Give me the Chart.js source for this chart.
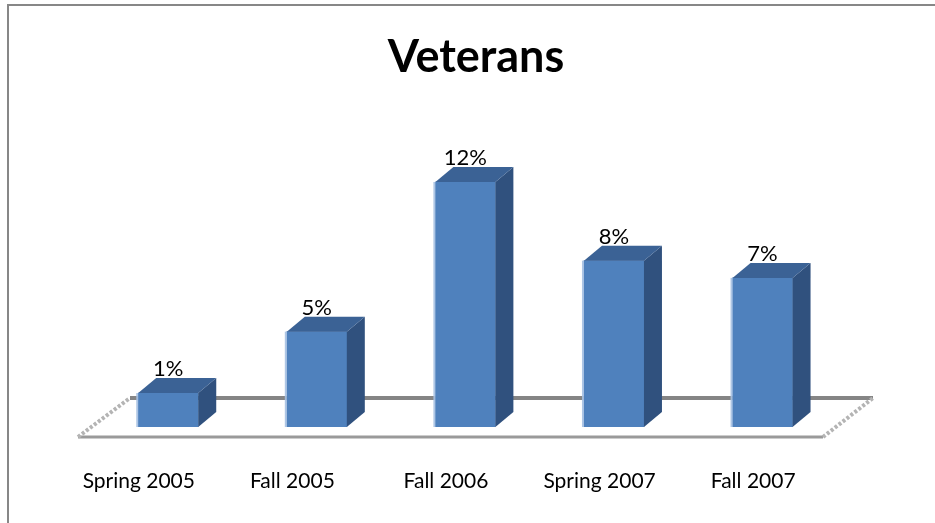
<!DOCTYPE html>
<html><head><meta charset="utf-8">
<script src="https://cdn.jsdelivr.net/npm/chart.js@4.4.1/dist/chart.umd.min.js"></script>
<style>html,body{margin:0;padding:0;background:#fff;} #wrap{width:935px;height:523px;position:relative;}</style>
</head><body><div id="wrap"><canvas id="c" width="935" height="523"></canvas></div>
<script>
const chartTitle = 'Veterans';
const categories = ['Spring 2005', 'Fall 2005', 'Fall 2006', 'Spring 2007', 'Fall 2007'];
const positions = [0, 1, 2, 3, 4];
const values = [1.0, 4.2, 12.0, 7.9, 7.0];
const valueLabels = ['1%', '5%', '12%', '8%', '7%'];

const Y_MIN = -0.77, Y_MAX = 15.23;
const DX = 18, DY = -15;

const threeD = {
  id: 'threeD',
  beforeDraw(chart) {
    const ctx = chart.ctx;
    ctx.save();
    ctx.fillStyle = '#fff';
    ctx.fillRect(0, 0, chart.width, chart.height);
    ctx.strokeStyle = '#878787';
    ctx.lineWidth = 2;
    ctx.strokeRect(8, 5, 960, 560);
    ctx.restore();
  },
  beforeDatasetsDraw(chart) {
    const ctx = chart.ctx, a = chart.chartArea, ys = chart.scales.y;
    const base = ys.getPixelForValue(ys.min);
    const fy = base + 10, by = base - 29;
    const fl = a.left + 16, bl = a.left + 68, fr = a.right - 7, br = a.right + 43;
    ctx.save();
    ctx.lineCap = 'butt';
    ctx.strokeStyle = '#858585'; ctx.lineWidth = 4;
    ctx.beginPath(); ctx.moveTo(bl, by); ctx.lineTo(br, by); ctx.stroke();
    ctx.strokeStyle = '#9a9a9a'; ctx.lineWidth = 3;
    ctx.beginPath(); ctx.moveTo(fl, fy); ctx.lineTo(fr, fy); ctx.stroke();
    ctx.strokeStyle = '#b4b4b4'; ctx.lineWidth = 4; ctx.setLineDash([3, 2]);
    ctx.beginPath(); ctx.moveTo(fl, fy); ctx.lineTo(bl, by); ctx.stroke();
    ctx.beginPath(); ctx.moveTo(fr, fy); ctx.lineTo(br, by); ctx.stroke();
    ctx.restore();
  },
  afterDatasetsDraw(chart) {
    const ctx = chart.ctx;
    const meta = chart.getDatasetMeta(0);
    ctx.save();
    meta.data.forEach((el, i) => {
      const p = el.getProps(['x', 'y', 'base', 'width'], true);
      const l = p.x - p.width / 2, r = p.x + p.width / 2;
      ctx.fillStyle = '#30517E';
      ctx.beginPath();
      ctx.moveTo(r, p.y); ctx.lineTo(r + DX, p.y + DY); ctx.lineTo(r + DX, p.base + DY); ctx.lineTo(r, p.base);
      ctx.closePath(); ctx.fill();
      ctx.fillStyle = '#3B6295';
      ctx.beginPath();
      ctx.moveTo(l, p.y); ctx.lineTo(l + DX, p.y + DY); ctx.lineTo(r + DX, p.y + DY); ctx.lineTo(r, p.y);
      ctx.closePath(); ctx.fill();
      ctx.fillStyle = 'rgba(165,192,226,0.9)';
      ctx.fillRect(l - 2, p.y, 2, p.base - p.y);
      ctx.fillStyle = '#000';
      ctx.font = '22px Lato';
      ctx.textAlign = 'center';
      ctx.textBaseline = 'alphabetic';
      ctx.fillText(valueLabels[i], p.x, p.y + DY - 2);
    });
    ctx.restore();
  }
};

new Chart(document.getElementById('c'), {
  type: 'bar',
  data: {
    labels: categories,
    datasets: [{
      data: positions.map((p, i) => ({ x: p, y: values[i] })),
      xAxisID: 'xb',
      yAxisID: 'y',
      backgroundColor: '#4F81BD',
      borderWidth: 0,
      barThickness: 60,
      base: Y_MIN
    }]
  },
  options: {
    responsive: false,
    animation: false,
    devicePixelRatio: 1,
    layout: { padding: { left: 62, right: 45, top: 0, bottom: 16 } },
    plugins: {
      legend: { display: false },
      tooltip: { enabled: false },
      title: {
        display: true, text: chartTitle, color: '#000',
        font: { family: 'Lato', size: 45, weight: 'bold', lineHeight: 1.2 },
        padding: { top: 30, bottom: 36 }
      }
    },
    scales: {
      x: {
        type: 'category', offset: true,
        grid: { display: false, drawTicks: false }, border: { display: false },
        ticks: { color: '#000', font: { family: 'Lato', size: 21 }, padding: 42, maxRotation: 0, autoSkip: false },
        afterFit(s) { s.height = 80; }
      },
      xb: { type: 'linear', display: false, offset: false, grid: { offset: false }, min: -0.715, max: 4.454 },
      y: {
        type: 'linear', position: 'right', display: true, min: Y_MIN, max: Y_MAX,
        grid: { display: false, drawTicks: false }, border: { display: false },
        ticks: { display: false },
        afterFit(s) { s.width = 60; }
      }
    }
  },
  plugins: [threeD]
});
</script>
</body></html>
